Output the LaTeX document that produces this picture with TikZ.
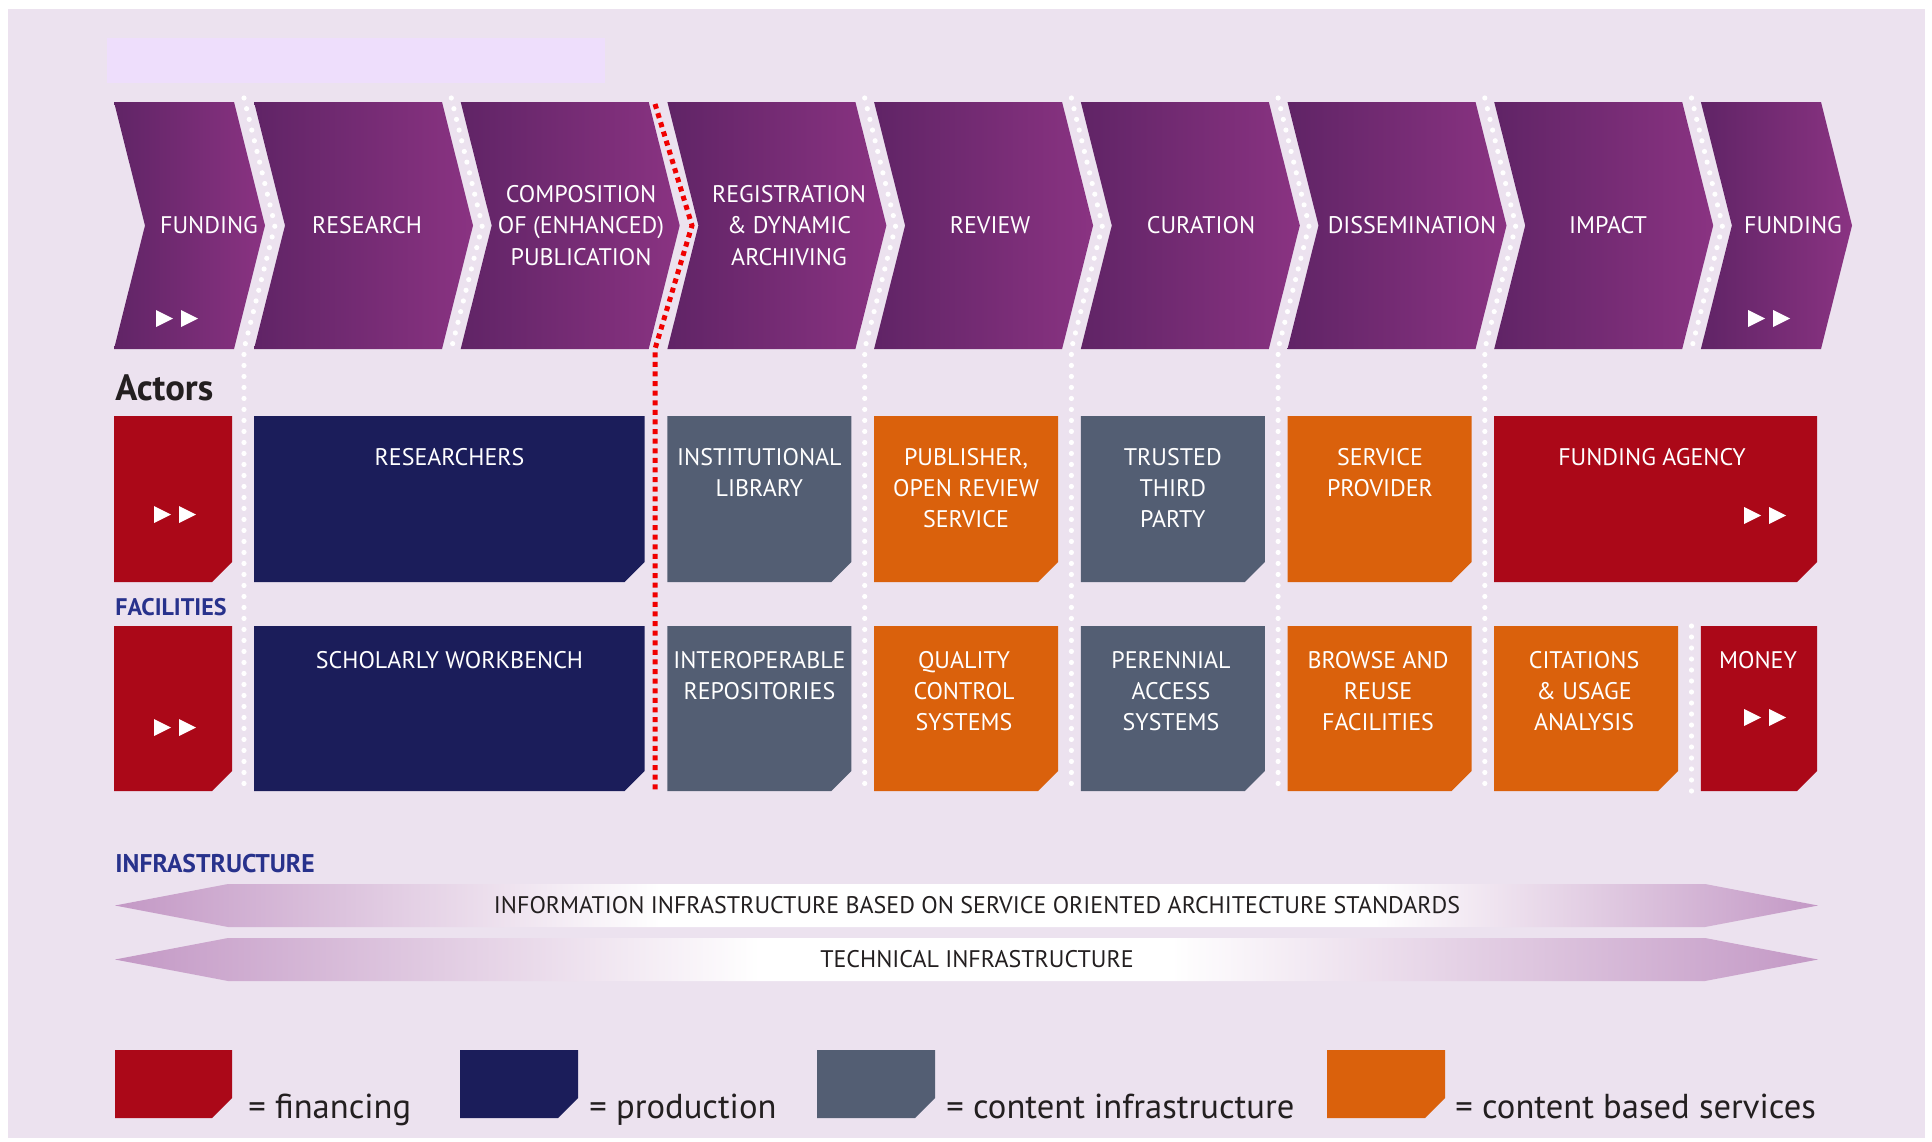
\documentclass[tikz,border=0pt]{standalone}
\usepackage{fontspec}
\setmainfont{PT Sans}
\usepackage{tikz}
\definecolor{white}{RGB}{255,255,255}
\definecolor{panel_bg}{RGB}{236,226,239}
\definecolor{title_bg}{RGB}{238,222,252}
\definecolor{chev_dark}{RGB}{96,36,102}
\definecolor{chev_light}{RGB}{138,51,130}
\definecolor{fin_red}{RGB}{171,8,24}
\definecolor{prod_navy}{RGB}{27,29,90}
\definecolor{infra_grey}{RGB}{83,94,115}
\definecolor{serv_orange}{RGB}{218,97,12}
\definecolor{label_blue}{RGB}{40,50,140}
\definecolor{arrow_lilac}{RGB}{195,152,197}
\definecolor{text_dark}{RGB}{35,31,32}
\definecolor{split_red}{RGB}{240,0,0}
\pgfdeclarehorizontalshading{infra_top}{100bp}{color(0bp)=(arrow_lilac); color(25bp)=(arrow_lilac); color(41bp)=(white); color(62bp)=(white); color(75bp)=(arrow_lilac); color(100bp)=(arrow_lilac)}
\pgfdeclarehorizontalshading{infra_bottom}{100bp}{color(0bp)=(arrow_lilac); color(25bp)=(arrow_lilac); color(44bp)=(white); color(56bp)=(white); color(75bp)=(arrow_lilac); color(100bp)=(arrow_lilac)}

\begin{document}
\begin{tikzpicture}[x=0.5pt,y=-0.5pt,
	chev/.style={left color=chev_dark,right color=chev_light},
	chevtxt/.style={text=white,align=center,inner sep=0pt,font=\fontsize{12}{15.6}\selectfont},
	boxtxt/.style={text=white,align=center,anchor=north,inner sep=0pt,font=\fontsize{12}{15.6}\selectfont},
	gapdots/.style={white,line width=2.6pt,line cap=round,dash pattern=on 0pt off 5.5pt},
	splitdots/.style={split_red,line width=2.5pt,dash pattern=on 2.5pt off 2.3pt},
	heading/.style={label_blue,anchor=base west,inner sep=0pt,font=\fontsize{12}{14}\selectfont\bfseries},
	legtxt/.style={text_dark,anchor=base west,inner sep=0pt,font=\fontsize{17.3}{20}\selectfont},
	infratxt/.style={text_dark,inner sep=0pt,font=\fontsize{12}{14}\selectfont}]
	\useasboundingbox (0,0) rectangle (1932,1141);
	\fill[white] (0,0) rectangle (1932,1141);
	\fill[panel_bg] (8,9) rectangle (1925,1138);
	\fill[title_bg] (107,38) rectangle (605,83);
	
	% value chain
	\foreach \l/\r in {114/234,254/442,460.7/648.7,667.4/855.4,874.1/1062.1,1080.8/1268.8,1287.5/1475.5,1494.2/1682.2,1700.9/1821}
		\shade[chev] (\l,102) -- (\r,102) -- (\r+31,225.5) -- (\r,349) -- (\l,349) -- (\l+31,225.5) -- cycle;
	\foreach \g/\e in {244/792,451.3/349,864.7/792,1071.4/792,1278.1/792,1484.8/792,1691.5/349}
		\draw[gapdots] (\g,98) -- (\g+31,225.5) -- (\g,349) -- (\g,\e);
	\draw[gapdots] (1691.5,626) -- (1691.5,792);
	
	\node[chevtxt] (funding_a) at (209,225.5) {FUNDING};
	\node[chevtxt] (research) at (367,225.5) {RESEARCH};
	\node[chevtxt] (composition) at (581,225.5) {COMPOSITION\\OF (ENHANCED)\\PUBLICATION};
	\node[chevtxt] (registration) at (789,225.5) {REGISTRATION\\\& DYNAMIC\\ARCHIVING};
	\node[chevtxt] (review) at (990,225.5) {REVIEW};
	\node[chevtxt] (curation) at (1201,225.5) {CURATION};
	\node[chevtxt] (dissemination) at (1412,225.5) {DISSEMINATION};
	\node[chevtxt] (impact) at (1608,225.5) {IMPACT};
	\node[chevtxt] (funding_b) at (1793,225.5) {FUNDING};
	
	% actors, facilities and legend boxes
	\foreach \xa/\ya/\xb/\yb/\c in {114/416/232/582/fin_red,254/416/644.7/582/prod_navy,667.4/416/851.4/582/infra_grey,874.1/416/1058.1/582/serv_orange,1080.8/416/1264.8/582/infra_grey,1287.5/416/1471.5/582/serv_orange,1494.2/416/1817/582/fin_red,
		114/626/232/791/fin_red,254/626/644.7/791/prod_navy,667.4/626/851.4/791/infra_grey,874.1/626/1058.1/791/serv_orange,1080.8/626/1264.8/791/infra_grey,1287.5/626/1471.5/791/serv_orange,1494.2/626/1678.2/791/serv_orange,1700.9/626/1817/791/fin_red,
		115/1050/232/1118/fin_red,460/1050/578/1118/prod_navy,817/1050/935/1118/infra_grey,1327/1050/1445/1118/serv_orange}
		\fill[\c] (\xa,\ya) -- (\xb,\ya) -- (\xb,\yb-20) -- (\xb-20,\yb) -- (\xa,\yb) -- cycle;
	
	\node[anchor=base west,inner sep=0pt,font=\fontsize{18.3}{20}\selectfont\bfseries,text_dark] (actors) at (115,400) {Actors};
	\node[boxtxt] (researchers) at (449.5,448) {RESEARCHERS};
	\node[boxtxt] (library) at (759.4,448) {INSTITUTIONAL\\LIBRARY};
	\node[boxtxt] (publisher) at (966,448) {PUBLISHER,\\OPEN REVIEW\\SERVICE};
	\node[boxtxt] (trusted) at (1172.8,448) {TRUSTED\\THIRD\\PARTY};
	\node[boxtxt] (provider) at (1380,448) {SERVICE\\PROVIDER};
	\node[boxtxt] (agency) at (1652,448) {FUNDING AGENCY};
	
	\node[heading] (facilities) at (115,615) {FACILITIES};
	\node[boxtxt] (workbench) at (449.5,651) {SCHOLARLY WORKBENCH};
	\node[boxtxt] (repositories) at (759.4,651) {INTEROPERABLE\\REPOSITORIES};
	\node[boxtxt] (quality) at (964,651) {QUALITY\\CONTROL\\SYSTEMS};
	\node[boxtxt] (perennial) at (1171,651) {PERENNIAL\\ACCESS\\SYSTEMS};
	\node[boxtxt] (browse) at (1378,651) {BROWSE AND\\REUSE\\FACILITIES};
	\node[boxtxt] (citations) at (1584,651) {CITATIONS\\\& USAGE\\ANALYSIS};
	\node[boxtxt] (money) at (1758,651) {MONEY};
	
	\foreach \x/\y in {156/310,154/506,154/719,1744/507,1744/709,1748/310}
		\fill[white] (\x,\y) -- ++(17,8.5) -- ++(-17,8.5) -- cycle (\x+25,\y) -- ++(17,8.5) -- ++(-17,8.5) -- cycle;
	
	\draw[splitdots] (655,104) -- (692,225.5) -- (655,349) -- (655,792);
	
	% infrastructure
	\node[heading,font=\fontsize{12.8}{14}\selectfont\bfseries] (infrastructure) at (115,872) {INFRASTRUCTURE};
	\shade[shading=infra_top] (115,905.5) -- (228,884) -- (1705,884) -- (1818,905.5) -- (1705,927) -- (228,927) -- cycle;
	\node[infratxt] (soa) at (977,905.5) {INFORMATION INFRASTRUCTURE BASED ON SERVICE ORIENTED ARCHITECTURE STANDARDS};
	\shade[shading=infra_bottom] (115,959.5) -- (228,938) -- (1705,938) -- (1818,959.5) -- (1705,981) -- (228,981) -- cycle;
	\node[infratxt] (technical) at (977,959.5) {TECHNICAL INFRASTRUCTURE};
	
	\node[legtxt] (leg_fin) at (248,1118) {= financing};
	\node[legtxt] (leg_prod) at (589,1118) {= production};
	\node[legtxt] (leg_infra) at (946,1118) {= content infrastructure};
	\node[legtxt] (leg_serv) at (1455,1118) {= content based services};
\end{tikzpicture}
\end{document}
